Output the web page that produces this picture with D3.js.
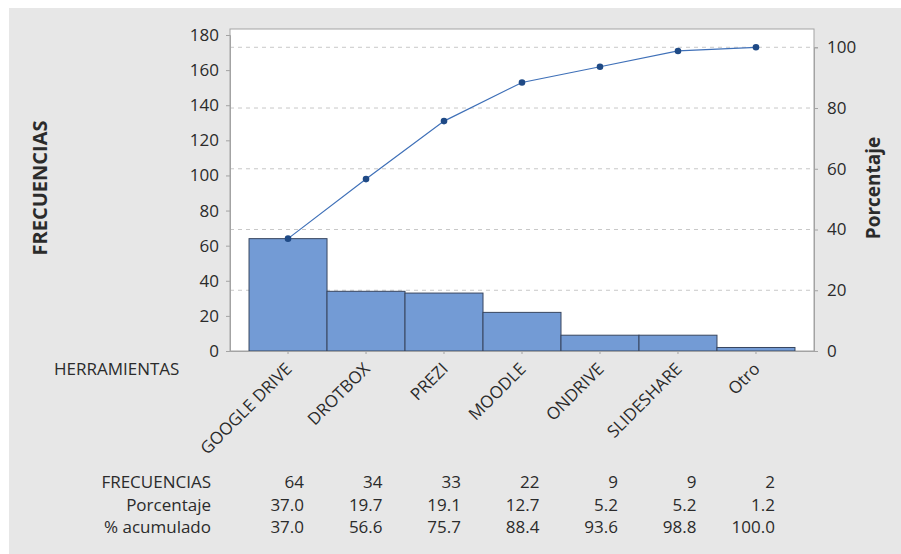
<!DOCTYPE html>
<html>
<head>
<meta charset="utf-8">
<script src="https://cdn.jsdelivr.net/npm/d3@7"></script>
<style>
  body { margin: 0; background: #fff; }
  text { font-family: "Open Sans", "Noto Sans", sans-serif; fill: #2b2b2b; }
</style>
</head>
<body>
<svg id="vis" width="901" height="554"></svg>
<script>
var categories = ["GOOGLE DRIVE", "DROTBOX", "PREZI", "MOODLE", "ONDRIVE", "SLIDESHARE", "Otro"];
var frecuencias = [64, 34, 33, 22, 9, 9, 2];
var porcentaje = [37.0, 19.7, 19.1, 12.7, 5.2, 5.2, 1.2];
var acumulado = [37.0, 56.6, 75.7, 88.4, 93.6, 98.8, 100.0];
var leftTicks = [0, 20, 40, 60, 80, 100, 120, 140, 160, 180];
var rightTicks = [0, 20, 40, 60, 80, 100];
var rowLabels = ["FRECUENCIAS", "Porcentaje", "% acumulado"];

var plot = {left: 230, top: 29, right: 814, bottom: 351};
var svg = d3.select("#vis");
var fs = "17px";

// fondo gris
svg.append("rect").attr("x", 9).attr("y", 8).attr("width", 892).attr("height", 546).attr("fill", "#e7e7e7");

var x = d3.scaleBand().domain(categories).range([plot.left, plot.right])
          .paddingInner(0).paddingOuter(0.244);
var y = d3.scaleLinear().domain([0, 180]).range([plot.bottom, 35]);
var total = d3.sum(frecuencias);
var y2 = d3.scaleLinear().domain([0, 100]).range([plot.bottom, y(total)]);

svg.append("rect").attr("x", plot.left).attr("y", plot.top)
   .attr("width", plot.right - plot.left).attr("height", plot.bottom - plot.top)
   .attr("fill", "#fff").attr("stroke", "#a3a3a3");

// lineas de referencia
svg.selectAll("line.grid").data(rightTicks.slice(1)).enter().append("line")
   .attr("class", "grid")
   .attr("x1", plot.left).attr("x2", plot.right)
   .attr("y1", d => y2(d)).attr("y2", d => y2(d))
   .attr("stroke", "#c8c8c8").attr("stroke-dasharray", "4,4");

// barras
svg.selectAll("rect.bar").data(frecuencias).enter().append("rect")
   .attr("class", "bar")
   .attr("x", (d, i) => x(categories[i]))
   .attr("y", d => y(d))
   .attr("width", x.bandwidth())
   .attr("height", d => y(0) - y(d))
   .attr("fill", "#739bd5").attr("stroke", "#38465f").attr("stroke-width", 1);

// linea acumulada
var cx = (d, i) => x(categories[i]) + x.bandwidth() / 2;
var line = d3.line().x(cx).y(d => y2(d));
svg.append("path").datum(acumulado).attr("d", line)
   .attr("fill", "none").attr("stroke", "#3f70b8").attr("stroke-width", 1.2);
svg.selectAll("circle").data(acumulado).enter().append("circle")
   .attr("cx", cx).attr("cy", d => y2(d)).attr("r", 3.3)
   .attr("fill", "#1f4a86");

// ejes
var gl = svg.append("g").attr("transform", "translate(" + plot.left + ",0)")
            .call(d3.axisLeft(y).tickValues(leftTicks).tickSize(4).tickPadding(7));
var gr = svg.append("g").attr("transform", "translate(" + plot.right + ",0)")
            .call(d3.axisRight(y2).tickValues(rightTicks).tickSize(4).tickPadding(9));
var gb = svg.append("g").attr("transform", "translate(0," + plot.bottom + ")")
            .call(d3.axisBottom(x).tickSize(3).tickSizeOuter(0));
[gl, gr, gb].forEach(g => {
	g.select(".domain").attr("stroke", "#a3a3a3");
	g.selectAll(".tick line").attr("stroke", "#a3a3a3");
	g.selectAll("text").style("font-size", fs).style("font-family", "'Open Sans', sans-serif").attr("fill", "#2b2b2b");
});
gb.selectAll("text")
  .attr("text-anchor", "end")
  .attr("dy", null).attr("y", null)
  .attr("transform", "translate(5,19) rotate(-45)");

// titulos
svg.append("text").attr("transform", "translate(47,188) rotate(-90)")
   .attr("text-anchor", "middle").style("font-size", "20px").style("font-weight", "bold")
   .text("FRECUENCIAS");
svg.append("text").attr("transform", "translate(880,188) rotate(-90)")
   .attr("text-anchor", "middle").style("font-size", "19px").style("font-weight", "bold")
   .text("Porcentaje");
svg.append("text").attr("x", 54).attr("y", 375).style("font-size", fs).text("HERRAMIENTAS");

// tabla
var rows = [frecuencias, porcentaje.map(d => d.toFixed(1)), acumulado.map(d => d.toFixed(1))];
var rowY = [488, 511, 533];
rows.forEach((r, j) => {
	svg.append("text").attr("x", 211).attr("y", rowY[j]).attr("text-anchor", "end")
	   .style("font-size", fs).text(rowLabels[j]);
	svg.selectAll("text.v" + j).data(r).enter().append("text")
	   .attr("class", "v" + j)
	   .attr("x", (d, i) => cx(d, i) + 16 + i * 0.5).attr("y", rowY[j])
	   .attr("text-anchor", "end").style("font-size", fs)
	   .text(d => d);
});
</script>
</body>
</html>
